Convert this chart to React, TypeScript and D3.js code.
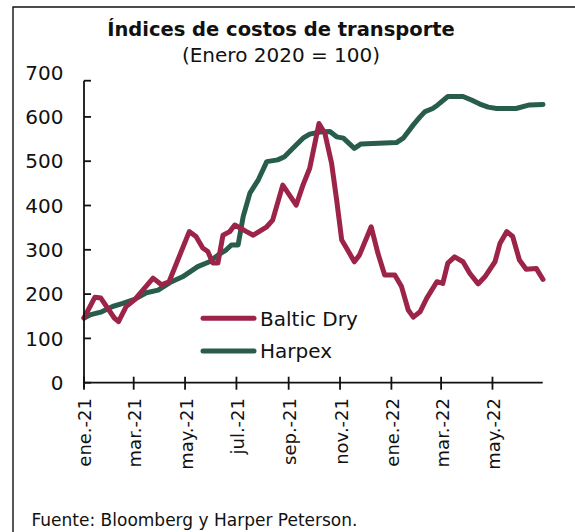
import React from "react";
import * as d3 from "d3";

const titleText = "Índices de costos de transporte";
const subtitleText = "(Enero 2020 = 100)";
const sourceText = "Fuente: Bloomberg y Harper Peterson.";

const seriesNames = ["Baltic Dry", "Harpex"];
const seriesColors = ["#9D2449", "#285C4D"];

const xTickDates = ["2021-01-01", "2021-03-01", "2021-05-01", "2021-07-01", "2021-09-01", "2021-11-01", "2022-01-01", "2022-03-01", "2022-05-01"];
const xTickLabels = ["ene.-21", "mar.-21", "may.-21", "jul.-21", "sep.-21", "nov.-21", "ene.-22", "mar.-22", "may.-22"];
const yTickValues = [0, 100, 200, 300, 400, 500, 600, 700];

const balticDates = [
  "2021-01-01", "2021-01-14", "2021-01-21", "2021-02-06", "2021-02-11", "2021-02-20", "2021-03-02", "2021-03-24",
  "2021-04-03", "2021-04-12", "2021-05-06", "2021-05-14", "2021-05-22", "2021-05-28", "2021-06-03", "2021-06-09",
  "2021-06-15", "2021-06-23", "2021-06-29", "2021-07-13", "2021-07-21", "2021-08-06", "2021-08-13", "2021-08-25",
  "2021-09-10", "2021-09-18", "2021-09-26", "2021-10-07", "2021-10-14", "2021-10-22", "2021-10-28", "2021-11-03",
  "2021-11-09", "2021-11-18", "2021-11-24", "2021-12-08", "2021-12-16", "2021-12-24", "2022-01-05", "2022-01-13",
  "2022-01-21", "2022-01-27", "2022-02-04", "2022-02-12", "2022-02-24", "2022-03-03", "2022-03-09", "2022-03-17",
  "2022-03-27", "2022-04-04", "2022-04-14", "2022-04-22", "2022-05-04", "2022-05-10", "2022-05-18", "2022-05-25",
  "2022-06-02", "2022-06-10", "2022-06-22", "2022-06-30",
];
const balticValues = [
  146, 193, 191, 146, 138, 172, 187, 236,
  221, 228, 341, 330, 304, 296, 270, 270,
  333, 341, 356, 341, 333, 352, 367, 446,
  401, 446, 484, 585, 563, 495, 412, 322,
  303, 273, 288, 352, 292, 243, 243, 217,
  164, 148, 160, 191, 228, 224, 270, 284,
  273, 247, 223, 239, 273, 315, 341, 330,
  277, 256, 258, 233,
];

const harpexDates = [
  "2021-01-01", "2021-01-08", "2021-01-22", "2021-02-04", "2021-02-16", "2021-03-02", "2021-03-16", "2021-03-30",
  "2021-04-13", "2021-04-28", "2021-05-16", "2021-05-30", "2021-06-09", "2021-06-19", "2021-06-25", "2021-07-03",
  "2021-07-09", "2021-07-17", "2021-07-27", "2021-08-06", "2021-08-19", "2021-08-27", "2021-09-06", "2021-09-18",
  "2021-09-26", "2021-10-08", "2021-10-20", "2021-10-28", "2021-11-05", "2021-11-18", "2021-11-26", "2022-01-07",
  "2022-01-15", "2022-01-27", "2022-02-04", "2022-02-10", "2022-02-19", "2022-02-25", "2022-03-09", "2022-03-27",
  "2022-04-06", "2022-04-16", "2022-04-26", "2022-05-06", "2022-05-29", "2022-06-14", "2022-06-30",
];
const harpexValues = [
  146, 153, 160, 172, 179, 188, 203, 209,
  226, 239, 262, 273, 288, 300, 311, 311,
  375, 428, 458, 499, 503, 510, 529, 552,
  561, 566, 567, 555, 552, 529, 539, 542,
  552, 582, 600, 612, 619, 627, 646, 646,
  638, 629, 622, 619, 619, 627, 628,
];

const FONT = "'DejaVu Sans', sans-serif";

export default function App() {
  const parse = d3.timeParse("%Y-%m-%d");
  const x = d3
    .scaleTime()
    .domain([parse("2021-01-01") as Date, parse("2022-06-30") as Date])
    .range([84, 543]);
  const y = d3.scaleLinear().domain([0, 700]).range([382.7, 72.6]);
  const axisTop = 80.7;

  const series = [
    { name: seriesNames[0], color: seriesColors[0], pts: balticDates.map((d, i) => [parse(d) as Date, balticValues[i]] as [Date, number]) },
    { name: seriesNames[1], color: seriesColors[1], pts: harpexDates.map((d, i) => [parse(d) as Date, harpexValues[i]] as [Date, number]) },
  ];
  const line = d3
    .line<[Date, number]>()
    .x((d) => x(d[0]))
    .y((d) => y(d[1]))
    .curve(d3.curveLinear);

  const y0 = y(0);
  const legendY = [318.3, 351];

  return (
    <svg
      width={575}
      height={532}
      style={{ position: "absolute", left: 0, top: 0, background: "#fff" }}
      fontFamily={FONT}
    >
      <rect x={0} y={0} width={575} height={532} fill="#fff" />
      {/* frame */}
      <path d="M13,540 L13,7 L580,7" fill="none" stroke="#111" strokeWidth={1.4} />

      {/* title */}
      <text x={281} y={36} textAnchor="middle" fontSize={19.5} fontWeight={700} fill="#111">
        {titleText}
      </text>
      <text x={281} y={62} textAnchor="middle" fontSize={20} fill="#111">
        {subtitleText}
      </text>

      {/* series */}
      {[1, 0].map((k) => (
        <path
          key={series[k].name}
          d={line(series[k].pts) || ""}
          fill="none"
          stroke={series[k].color}
          strokeWidth={5}
          strokeLinejoin="round"
          strokeLinecap="round"
        />
      ))}

      {/* y axis */}
      <line x1={84} x2={84} y1={axisTop} y2={y0 + 5} stroke="#111" strokeWidth={1.8} />
      <line x1={84} x2={91} y1={axisTop} y2={axisTop} stroke="#111" strokeWidth={1.8} />
      {yTickValues.filter((v) => v < 700).map((v) => (
        <line key={"yt" + v} x1={84} x2={91} y1={y(v)} y2={y(v)} stroke="#111" strokeWidth={1.8} />
      ))}
      {yTickValues.map((v) => (
        <text key={"yl" + v} x={63.5} y={y(v)} dy="0.36em" textAnchor="end" fontSize={20} fill="#111">
          {v}
        </text>
      ))}

      {/* x axis */}
      <line x1={84} x2={542.7} y1={y0} y2={y0} stroke="#111" strokeWidth={1.8} />
      {xTickDates.map((d, i) => {
        const xx = x(parse(d) as Date);
        return (
          <g key={d}>
            <line x1={xx} x2={xx} y1={y0 - 6} y2={y0 + 7} stroke="#111" strokeWidth={1.8} />
            <text
              transform={`translate(${xx + 1},${398}) rotate(-90)`}
              textAnchor="end"
              dy="0.36em"
              fontSize={18}
              fill="#111"
            >
              {xTickLabels[i]}
            </text>
          </g>
        );
      })}

      {/* legend */}
      {series.map((s, i) => (
        <g key={"lg" + s.name}>
          <line x1={203} x2={254} y1={legendY[i]} y2={legendY[i]} stroke={s.color} strokeWidth={5} strokeLinecap="round" />
          <text x={260} y={legendY[i]} dy="0.36em" fontSize={20} fill="#111">
            {s.name}
          </text>
        </g>
      ))}

      {/* source */}
      <text x={31.5} y={526} fontSize={17} fill="#111">
        {sourceText}
      </text>
    </svg>
  );
}
